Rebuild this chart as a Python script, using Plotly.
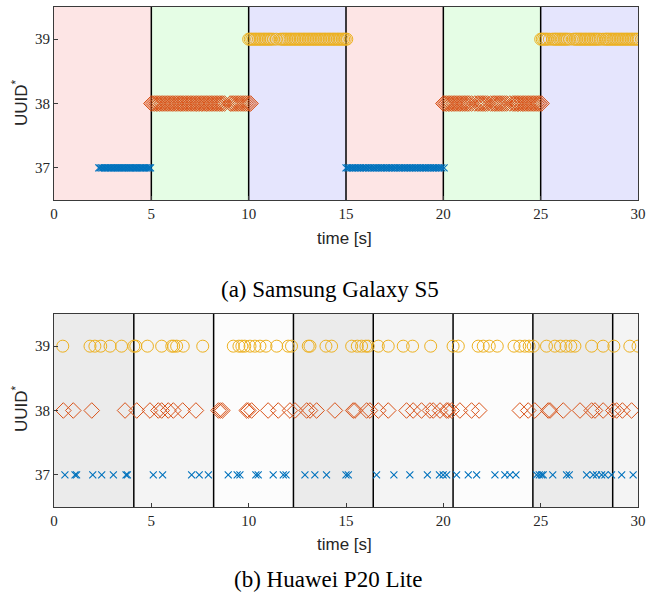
import plotly.graph_objects as go

# ---------------- data ----------------
# (a) Samsung Galaxy S5: reception times [s] per UUID
s5_t37 = [2.30, 2.37, 2.45, 2.52, 2.60, 2.66, 2.74, 2.81, 2.89, 2.95, 3.03, 3.10, 3.17, 3.25,
          3.31, 3.38, 3.46, 3.52, 3.60, 3.67, 3.74, 3.82, 3.89, 3.95, 4.03, 4.10, 4.18, 4.24,
          4.31, 4.40, 4.46, 4.53, 4.61, 4.68, 4.75, 4.83, 4.90, 4.96,
          15.00, 15.08, 15.16, 15.25, 15.33, 15.41, 15.49, 15.58, 15.66, 15.74, 15.83, 15.91,
          16.00, 16.07, 16.17, 16.24, 16.33, 16.42, 16.49, 16.58, 16.66, 16.75, 16.83, 16.91,
          17.00, 17.08, 17.16, 17.25, 17.33, 17.41, 17.50, 17.57, 17.67, 17.75, 17.83, 17.92,
          18.00, 18.08, 18.16, 18.25, 18.33, 18.41, 18.50, 18.58, 18.66, 18.75, 18.83, 18.92,
          19.00, 19.08, 19.16, 19.25, 19.33, 19.42, 19.50, 19.58, 19.66, 19.75, 19.83, 19.92, 20.04]
s5_t38 = [5.00, 5.08, 5.17, 5.25, 5.33, 5.41, 5.50, 5.58, 5.66, 5.75, 5.83, 5.91, 6.00, 6.08,
          6.16, 6.25, 6.33, 6.42, 6.50, 6.58, 6.66, 6.75, 6.83, 6.91, 7.00, 7.08, 7.16, 7.25,
          7.33, 7.41, 7.50, 7.58, 7.66, 7.75, 7.83, 7.91, 8.00, 8.08, 8.16, 8.25, 8.33, 8.41,
          8.50, 8.58, 8.66, 8.76, 9.05, 9.14, 9.22, 9.31, 9.40, 9.48, 9.57, 9.66, 9.75, 9.84,
          9.93, 10.02, 10.10,
          20.00, 20.08, 20.16, 20.25, 20.33, 20.41, 20.50, 20.58, 20.66, 20.75, 20.83, 20.91,
          21.00, 21.08, 21.16, 21.25, 21.33, 21.45, 21.62, 21.75, 21.83, 21.92, 22.00, 22.08,
          22.17, 22.27, 22.43, 22.55, 22.63, 22.71, 22.80, 22.88, 22.96, 23.05, 23.15, 23.25,
          23.42, 23.56, 23.64, 23.72, 23.80, 23.88, 23.96, 24.05, 24.13, 24.21, 24.30, 24.38,
          24.46, 24.55, 24.63, 24.71, 24.80, 24.88, 24.96, 25.05]
s5_t39 = [10.00, 10.08, 10.16, 10.25, 10.33, 10.41, 10.50, 10.58, 10.66, 10.75, 10.83, 10.91,
          11.00, 11.08, 11.16, 11.27, 11.42, 11.62, 11.72, 11.80, 11.88, 11.96, 12.05, 12.13,
          12.21, 12.30, 12.38, 12.46, 12.55, 12.63, 12.71, 12.80, 12.88, 12.96, 13.05, 13.13,
          13.21, 13.30, 13.38, 13.46, 13.55, 13.63, 13.71, 13.80, 13.88, 13.96, 14.05, 14.13,
          14.21, 14.30, 14.38, 14.46, 14.55, 14.63, 14.71, 14.80, 14.88, 14.96, 15.04,
          25.00, 25.08, 25.16, 25.25, 25.33, 25.45, 25.60, 25.70, 25.78, 25.86, 25.95, 26.03,
          26.11, 26.20, 26.28, 26.36, 26.48, 26.68, 26.78, 26.86, 26.95, 27.03, 27.11, 27.20,
          27.28, 27.36, 27.45, 27.53, 27.61, 27.70, 27.78, 27.86, 27.95, 28.05, 28.20, 28.32,
          28.40, 28.48, 28.57, 28.65, 28.73, 28.82, 28.90, 28.98, 29.07, 29.15, 29.23, 29.32,
          29.40, 29.48, 29.57, 29.65, 29.73, 29.82, 29.90, 30.00]

# (b) Huawei P20 Lite: reception times [s] per UUID
p20_t37 = [0.56, 1.08, 1.16, 1.99, 2.45, 3.05, 3.70, 3.77, 5.10, 5.58, 7.07, 7.46, 7.93,
           8.95, 9.41, 9.55, 10.37, 10.49, 11.26, 11.78, 11.92, 12.89, 13.40, 14.00, 15.00,
           15.12, 16.57, 17.46, 18.28, 19.18, 19.80, 19.99, 20.17, 20.68, 21.28, 21.71, 22.65,
           23.16, 23.42, 23.73, 24.79, 24.93, 25.05, 25.13, 25.62, 26.33, 26.47, 27.36, 27.70,
           27.87, 28.13, 28.30, 28.64, 29.16, 29.75]
p20_t38 = [0.48, 0.99, 1.94, 3.65, 4.25, 4.93, 5.36, 5.53, 5.87, 6.13, 6.61, 7.29, 8.45,
           8.55, 8.65, 9.90, 9.98, 10.15, 11.00, 11.52, 12.12, 12.38, 12.98, 13.15, 13.49,
           14.43, 15.37, 15.46, 16.06, 16.23, 16.66, 17.17, 18.11, 18.45, 18.88, 19.31, 19.48,
           19.83, 20.17, 20.25, 20.43, 20.85, 21.45, 21.84, 23.93, 24.36, 24.70, 25.39, 25.48,
           26.16, 27.02, 27.62, 27.79, 28.21, 28.73, 28.90, 29.20, 29.67]
p20_t39 = [0.45, 1.85, 2.10, 2.40, 2.88, 3.47, 4.10, 4.20, 4.80, 5.53, 6.05, 6.15, 6.30,
           6.64, 7.64, 9.21, 9.50, 9.65, 9.80, 10.07, 10.32, 10.58, 10.89, 11.44, 12.03,
           12.20, 13.06, 13.15, 13.97, 14.26, 15.29, 15.58, 15.80, 16.02, 16.14, 16.66, 17.17,
           17.94, 18.42, 19.35, 20.50, 20.77, 21.79, 22.05, 22.36, 22.77, 23.63, 23.93, 24.19,
           24.41, 24.62, 25.30, 25.73, 26.02, 26.30, 26.55, 26.76, 27.62, 28.21, 28.76, 29.58,
           30.00]

# phase boundaries and shading per phase
s5_bounds = [0, 5, 10, 15, 20, 25, 30]
s5_fill = ["#fde5e5", "#e5fde5", "#e5e5fd", "#fde5e5", "#e5fde5", "#e5e5fd"]
p20_bounds = [0, 4.1, 8.2, 12.3, 16.4, 20.5, 24.6, 28.7, 30]
p20_fill = ["#ebebeb", "#f4f4f4", "#fcfcfc", "#ebebeb", "#f4f4f4", "#fcfcfc", "#ebebeb", "#f4f4f4"]

x_ticks = [0, 5, 10, 15, 20, 25, 30]
y_ticks = [37, 38, 39]

C_BLUE, C_ORANGE, C_YELLOW = "#0072BD", "#D95319", "#EDB120"

# ---------------- figure ----------------
fig = go.Figure()


def add_series(t37, t38, t39, xa, ya):
    fig.add_trace(go.Scatter(x=t37, y=[37] * len(t37), mode="markers", xaxis=xa, yaxis=ya,
                             marker=dict(symbol="x-thin-open", size=7, color=C_BLUE,
                                         line=dict(width=1.1, color=C_BLUE)),
                             showlegend=False, hoverinfo="x+y"))
    fig.add_trace(go.Scatter(x=t38, y=[38] * len(t38), mode="markers", xaxis=xa, yaxis=ya,
                             marker=dict(symbol="diamond-open", size=12, color=C_ORANGE,
                                         line=dict(width=1.0, color=C_ORANGE)),
                             showlegend=False, hoverinfo="x+y"))
    fig.add_trace(go.Scatter(x=t39, y=[39] * len(t39), mode="markers", xaxis=xa, yaxis=ya,
                             marker=dict(symbol="circle-open", size=12, color=C_YELLOW,
                                         line=dict(width=1.0, color=C_YELLOW)),
                             showlegend=False, hoverinfo="x+y"))


add_series(s5_t37, s5_t38, s5_t39, "x", "y")
add_series(p20_t37, p20_t38, p20_t39, "x2", "y2")

shapes = []
for bounds, fills, xr, yr in [(s5_bounds, s5_fill, "x", "y"), (p20_bounds, p20_fill, "x2", "y2")]:
    for i, col in enumerate(fills):
        shapes.append(dict(type="rect", xref=xr, yref=yr + " domain", x0=bounds[i], x1=bounds[i + 1],
                           y0=0, y1=1, fillcolor=col, line_width=0, layer="below"))
    for b in bounds[1:-1]:
        shapes.append(dict(type="line", xref=xr, yref=yr + " domain", x0=b, x1=b, y0=0, y1=1,
                           line=dict(color="black", width=1.5), layer="below"))

tick_font = dict(family="Liberation Serif", size=15, color="#262626")
axis_common = dict(range=[0, 30], tickvals=x_ticks, showgrid=False, zeroline=False,
                   showline=True, mirror=True, linecolor="#3a3a3a", linewidth=1,
                   ticks="inside", ticklen=4, tickcolor="#3a3a3a", tickfont=tick_font,
                   automargin=False)
yaxis_common = dict(range=[36.5, 39.5], tickvals=y_ticks, showgrid=False, zeroline=False,
                    showline=True, mirror=True, linecolor="#3a3a3a", linewidth=1,
                    ticks="inside", ticklen=4, tickcolor="#3a3a3a", tickfont=tick_font,
                    automargin=False)

W, H = 646, 599
fig.update_layout(
    width=W, height=H, margin=dict(l=0, r=0, t=0, b=0, autoexpand=False),
    paper_bgcolor="white", plot_bgcolor="white",
    xaxis=dict(domain=[54 / W, 638 / W], anchor="y", **axis_common),
    yaxis=dict(domain=[1 - 200 / H, 1 - 7 / H], anchor="x", **yaxis_common),
    xaxis2=dict(domain=[54 / W, 638 / W], anchor="y2", **axis_common),
    yaxis2=dict(domain=[1 - 507 / H, 1 - 314 / H], anchor="x2", **yaxis_common),
    shapes=shapes,
)

label_font = dict(family="Liberation Sans", size=17, color="#262626")
cap_font = dict(family="Liberation Serif", size=23, color="black")


def ann(text, x, y, font, angle=0):
    fig.add_annotation(text=text, x=x / W, y=1 - y / H, xref="paper", yref="paper",
                       showarrow=False, font=font, textangle=angle,
                       xanchor="center", yanchor="middle")


ann("UUID<sup>*</sup>", 20, 103, label_font, -90)
ann("time [s]", 345, 239, label_font)
ann("(a) Samsung Galaxy S5", 330, 289, cap_font)
ann("UUID<sup>*</sup>", 20, 409, label_font, -90)
ann("time [s]", 345, 544, label_font)
ann("(b) Huawei P20 Lite", 328, 579, cap_font)

fig.write_html("out.html")
